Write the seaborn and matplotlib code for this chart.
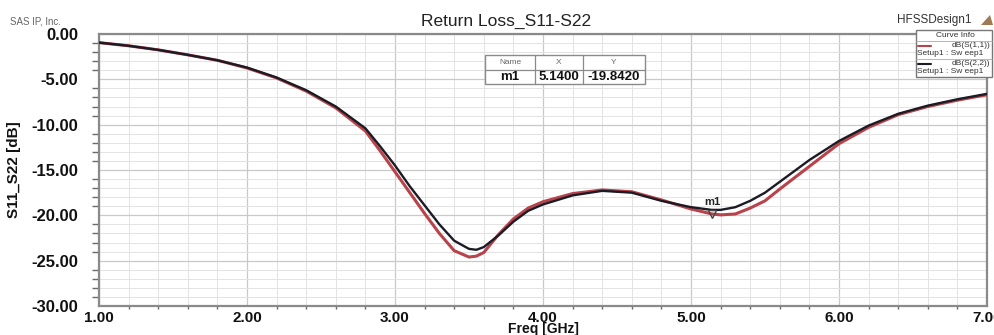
import matplotlib
matplotlib.use("Agg")
import matplotlib.pyplot as plt
import numpy as np
import pandas as pd
import seaborn as sns
from matplotlib.ticker import MultipleLocator, FormatStrFormatter
from matplotlib.lines import Line2D
from matplotlib.patches import Rectangle, Polygon

# Sweep frequencies (GHz) and return loss of both ports (dB)
freq_ghz = [1.0, 1.2, 1.4, 1.6, 1.8, 2.0, 2.2, 2.4, 2.6, 2.8,
            2.9, 3.0, 3.1, 3.2, 3.3, 3.4, 3.5, 3.55, 3.6, 3.7,
            3.8, 3.9, 4.0, 4.2, 4.4, 4.6, 4.8, 5.0, 5.14, 5.2,
            5.3, 5.4, 5.5, 5.6, 5.8, 6.0, 6.2, 6.4, 6.6, 6.8, 7.0]
s11_db = [-0.95, -1.3, -1.75, -2.3, -2.9, -3.75, -4.85, -6.3, -8.15, -10.7,
          -12.9, -15.2, -17.5, -19.8, -22.0, -23.9, -24.6, -24.5, -24.1, -22.1,
          -20.4, -19.2, -18.5, -17.6, -17.2, -17.4, -18.3, -19.3, -19.842, -19.95,
          -19.85, -19.2, -18.4, -17.1, -14.6, -12.1, -10.3, -8.9, -8.0, -7.3, -6.7]
s22_db = [-0.95, -1.3, -1.75, -2.3, -2.9, -3.7, -4.8, -6.2, -8.0, -10.4,
          -12.4, -14.5, -16.8, -18.9, -21.0, -22.8, -23.7, -23.8, -23.5, -22.2,
          -20.7, -19.5, -18.8, -17.8, -17.3, -17.5, -18.4, -19.1, -19.4, -19.4,
          -19.1, -18.4, -17.5, -16.3, -13.9, -11.8, -10.1, -8.8, -7.9, -7.2, -6.6]

curve_names = ["dB(S(1,1))", "dB(S(2,2))"]
curve_setup = "Setup1 : Sw eep1"
curve_colors = ["#b8434a", "#1b1b26"]

marker_name = "m1"
marker_freq = 5.14
marker_db = -19.842

x_ticks = [1.0, 2.0, 3.0, 4.0, 5.0, 6.0, 7.0]
y_ticks = [0.0, -5.0, -10.0, -15.0, -20.0, -25.0, -30.0]

sns.set_theme(style="white")
plt.rcParams["font.family"] = ["Liberation Sans", "DejaVu Sans"]

W, H = 995, 335


def fx(px):
    return px / W


def fy(py):
    return 1 - py / H


df = pd.DataFrame({
    "Freq": freq_ghz * 2,
    "dB": s11_db + s22_db,
    "Curve": [curve_names[0]] * len(freq_ghz) + [curve_names[1]] * len(freq_ghz),
})

fig = plt.figure(figsize=(W / 100, H / 100), dpi=100)
ax = fig.add_axes([fx(99), fy(306), 888 / W, 272 / H])

sns.lineplot(data=df[df.Curve == curve_names[0]], x="Freq", y="dB",
             color=curve_colors[0], lw=2.2, ax=ax, legend=False, zorder=3)
sns.lineplot(data=df[df.Curve == curve_names[1]], x="Freq", y="dB",
             color=curve_colors[1], lw=1.7, ax=ax, legend=False, zorder=4)

ax.set_xlim(x_ticks[0], x_ticks[-1])
ax.set_ylim(y_ticks[-1], y_ticks[0])
ax.set_xticks(x_ticks)
ax.set_yticks(y_ticks)
ax.xaxis.set_minor_locator(MultipleLocator(0.2))
ax.yaxis.set_minor_locator(MultipleLocator(1.0))
ax.xaxis.set_major_formatter(FormatStrFormatter("%.2f"))
ax.yaxis.set_major_formatter(FormatStrFormatter("%.2f"))

ax.grid(which="major", color="#c9c9c9", lw=0.9)
ax.grid(which="minor", color="#e3e3e3", lw=0.7)
ax.set_axisbelow(True)

for s in ax.spines.values():
    s.set_color("#8a8a8a")
    s.set_linewidth(1.6)

ax.tick_params(axis="y", which="major", direction="out", length=10, width=1.2,
               color="#6a6a6a", pad=5, labelsize=12)
ax.tick_params(axis="y", which="minor", direction="out", length=5, width=1.0,
               color="#6a6a6a", left=True)
ax.tick_params(axis="x", which="major", direction="out", length=2, width=1.0,
               color="#6a6a6a", pad=1.5, labelsize=11)
ax.tick_params(axis="x", which="minor", direction="out", length=2.5, width=1.0,
               color="#6a6a6a", bottom=True)
for lab in ax.get_xticklabels() + ax.get_yticklabels():
    lab.set_fontweight("bold")
    lab.set_color("#111111")

ax.set_xlabel("Freq [GHz]", fontsize=10, fontweight="bold", color="#111111")
ax.xaxis.set_label_coords(0.5, -0.058)
ax.set_ylabel("S11_S22 [dB]", fontsize=11, fontweight="bold", color="#111111")
ax.yaxis.set_label_coords(-0.088, 0.5)

# marker on the S11 trace
ax.plot([marker_freq], [marker_db], marker="v", ms=6, mfc="none",
        mec="#444444", mew=1.0, zorder=5, ls="none")
ax.annotate(marker_name, (marker_freq, marker_db), xytext=(0.5, 5),
            textcoords="offset points", ha="center", va="bottom",
            fontsize=8, fontweight="bold", color="#222222")

# marker readout table
tbl_x = [485, 535, 583, 645]
tbl_y = [55, 70, 84]
fig.add_artist(Rectangle((fx(tbl_x[0]), fy(tbl_y[2])), (tbl_x[3] - tbl_x[0]) / W,
                         (tbl_y[2] - tbl_y[0]) / H, transform=fig.transFigure,
                         facecolor="white", edgecolor="#8a8a8a", lw=1.0, zorder=6))
fig.add_artist(Line2D([fx(tbl_x[0]), fx(tbl_x[3])], [fy(tbl_y[1])] * 2,
                      transform=fig.transFigure, color="#8a8a8a", lw=0.9, zorder=7))
for xc in tbl_x[1:3]:
    fig.add_artist(Line2D([fx(xc)] * 2, [fy(tbl_y[0]), fy(tbl_y[2])],
                          transform=fig.transFigure, color="#8a8a8a", lw=0.9, zorder=7))
head = ["Name", "X", "Y"]
row = [marker_name, f"{marker_freq:.4f}", f"{marker_db:.4f}"]
for i in range(3):
    cx = (tbl_x[i] + tbl_x[i + 1]) / 2
    fig.text(fx(cx), fy(62.5), head[i], ha="center", va="center", fontsize=6,
             color="#666666", zorder=8)
    fig.text(fx(cx), fy(77.5), row[i], ha="center", va="center", fontsize=9.5,
             fontweight="bold", color="#111111", zorder=8)

# curve info box
fig.add_artist(Rectangle((fx(916), fy(77)), (992 - 916) / W, (77 - 30) / H,
                         transform=fig.transFigure, facecolor="white",
                         edgecolor="#777777", lw=1.0, zorder=6))
for sep in (41, 59):
    fig.add_artist(Line2D([fx(916), fx(992)], [fy(sep)] * 2,
                          transform=fig.transFigure, color="#aaaaaa", lw=0.6, zorder=7))
fig.text(fx(955), fy(35.5), "Curve Info", ha="center", va="center", fontsize=6,
         color="#333333", zorder=8)
for k, (name, col) in enumerate(zip(curve_names, curve_colors)):
    y0 = 45.5 + k * 18
    fig.add_artist(Line2D([fx(918), fx(931)], [fy(y0)] * 2, transform=fig.transFigure,
                          color=col, lw=1.5, zorder=8))
    fig.text(fx(990), fy(y0), name, ha="right", va="center", fontsize=6,
             color="#333333", zorder=8)
    fig.text(fx(917), fy(y0 + 8), curve_setup, ha="left", va="center", fontsize=6,
             color="#333333", zorder=8)

fig.text(fx(506), fy(21), "Return Loss_S11-S22", ha="center", va="center",
         fontsize=12.5, color="#222222")
fig.text(fx(10), fy(21), "SAS IP, Inc.", ha="left", va="center",
         fontsize=7, color="#666666")
fig.text(fx(972), fy(20), "HFSSDesign1", ha="right", va="center",
         fontsize=8.5, color="#333333")
fig.add_artist(Polygon([[fx(981), fy(25)], [fx(993), fy(25)], [fx(990), fy(15)]],
                       closed=True, transform=fig.transFigure,
                       facecolor="#a07a55", edgecolor="none", zorder=5))

fig.savefig("out.png", dpi=100, facecolor="white")
